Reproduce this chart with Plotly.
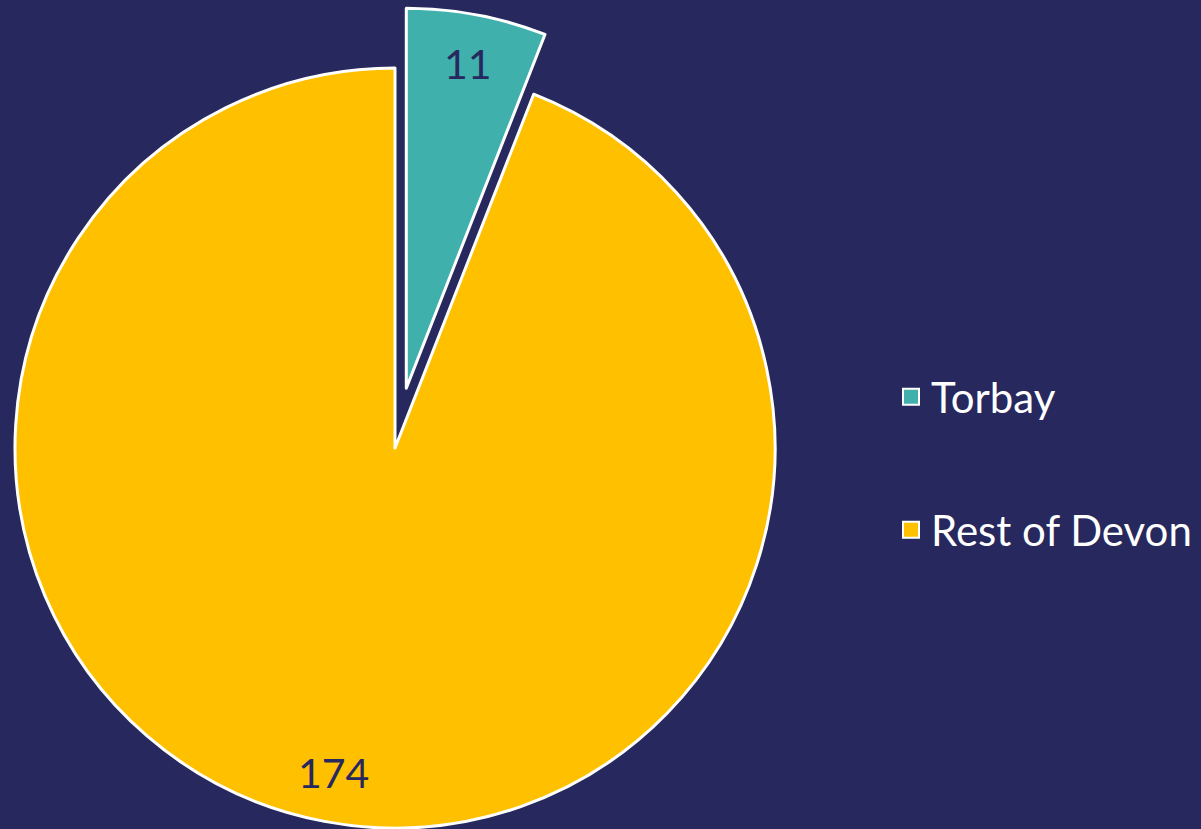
import math
import plotly.graph_objects as go

labels = ["Torbay", "Rest of Devon"]
values = [11, 174]
colors = ["#40B0AC", "#FFC000"]
pull_torbay = 0.16

BG = "#27285E"
W, H = 1201, 829
# pie geometry (pixels)
cx, cy, r = 395, 448, 380
FONT = "Lato"

total = sum(values)
theta_t = 2 * math.pi * (values[0] / total) / 2  # bisector of Torbay slice (clockwise from top)
dx = pull_torbay * r * math.sin(theta_t)
dy = -pull_torbay * r * math.cos(theta_t)


def dom(cxp, cyp):
    return dict(x=[(cxp - r) / W, (cxp + r) / W],
                y=[max(0, 1 - (cyp + r) / H), 1 - (cyp - r) / H])

TR = "rgba(0,0,0,0)"
fig = go.Figure()
# main pie: Rest of Devon visible
fig.add_trace(go.Pie(
    labels=labels, values=values, sort=False, direction="clockwise", rotation=0,
    marker=dict(colors=[TR, colors[1]], line=dict(color="white", width=[0, 3])),
    textinfo="none", hoverinfo="label+value", showlegend=False,
    domain=dom(cx, cy),
))
# pulled Torbay slice
fig.add_trace(go.Pie(
    labels=labels, values=values, sort=False, direction="clockwise", rotation=0,
    marker=dict(colors=[colors[0], TR], line=dict(color="white", width=[3, 0])),
    textinfo="none", hoverinfo="label+value", showlegend=False,
    domain=dom(cx + dx, cy + dy),
))

# legend entries
for i, (lab, col) in enumerate(zip(labels, colors)):
    fig.add_trace(go.Scatter(
        x=[None], y=[None], mode="markers", name=lab,
        marker=dict(symbol="square", size=16, color=col, line=dict(color="white", width=2)),
        legend="legend" if i == 0 else "legend2",
    ))

# data labels
annotations = []
cum = 0
for i, v in enumerate(values):
    mid = 2 * math.pi * (cum + v / 2) / total
    cum += v
    ox, oy = (dx, dy) if i == 0 else (0, 0)
    px = cx + ox + 0.87 * r * math.sin(mid)
    py = cy + oy - 0.87 * r * math.cos(mid)
    annotations.append(dict(x=px / W, y=1 - py / H, xref="paper", yref="paper",
                            xanchor="center", yanchor="middle",
                            text=str(v), showarrow=False,
                            font=dict(family=FONT, size=41, color=BG)))

leg_common = dict(font=dict(family=FONT, size=42, color="white"), bgcolor="rgba(0,0,0,0)",
                  xanchor="left", yanchor="middle", itemwidth=30)
fig.update_layout(
    width=W, height=H,
    paper_bgcolor=BG, plot_bgcolor=BG,
    margin=dict(l=0, r=0, t=0, b=0),
    xaxis=dict(visible=False), yaxis=dict(visible=False),
    legend=dict(x=891 / W, y=1 - 397 / H, **leg_common),
    legend2=dict(x=891 / W, y=1 - 530 / H, **leg_common),
    annotations=annotations,
)
fig.write_html("out.html", config={"displayModeBar": False},
               post_script="document.body.style.margin='0';document.body.style.background='" + BG + "';")
